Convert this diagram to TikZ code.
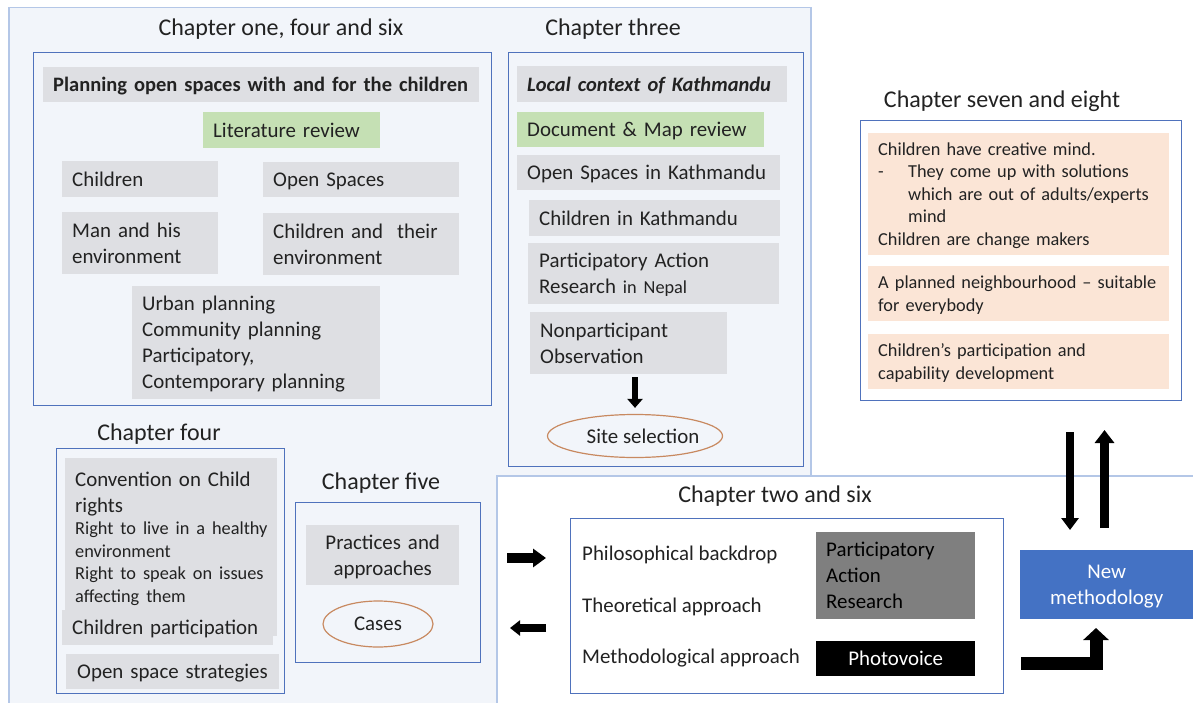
\documentclass[tikz,border=0pt]{standalone}
\usepackage{fontspec}
\setmainfont{Carlito}
\usetikzlibrary{arrows.meta,shapes.geometric}

\definecolor{panelfill}{RGB}{242,245,250}
\definecolor{panelline}{RGB}{180,199,231}
\definecolor{frameblue}{RGB}{79,114,188}
\definecolor{boxgray}{RGB}{222,223,227}
\definecolor{boxgreen}{RGB}{197,224,180}
\definecolor{boxpeach}{RGB}{251,229,214}
\definecolor{pargray}{RGB}{127,127,127}
\definecolor{methblue}{RGB}{68,114,196}
\definecolor{ovalline}{RGB}{200,137,96}
\definecolor{ink}{RGB}{34,34,34}

\newcommand\chapfont{\fontsize{24pt}{29pt}\selectfont}
\newcommand\boxfont{\fontsize{20.9pt}{26pt}\selectfont}
\newcommand\leadfont{\fontsize{20.5pt}{26pt}\selectfont}
\newcommand\notefont{\fontsize{18.3pt}{22.5pt}\selectfont}
% invisible rules giving every box the same top and bottom extent
\newcommand\topstrut{\rule{0pt}{1.05em}}
\newcommand\botstrut{\rule[-0.38em]{0pt}{0.38em}}

\tikzset{
  chaptitle/.style={inner sep=0pt, font=\chapfont, text=ink},
  chapframe/.style={draw=frameblue, line width=1.1pt, anchor=north west, inner sep=0pt},
  fillbox/.style={anchor=north west, align=left, inner xsep=10pt, inner ysep=0pt,
    font=\boxfont, text=ink, execute at begin node=\topstrut, execute at end node=\botstrut},
  graybox/.style={fillbox, fill=boxgray},
  greenbox/.style={fillbox, fill=boxgreen},
  peachbox/.style={fillbox, fill=boxpeach, font=\notefont},
  oval/.style={ellipse, draw=ovalline, line width=1.2pt, inner sep=0pt, font=\boxfont, text=ink},
  plain/.style={anchor=west, inner sep=0pt, font=\boxfont, text=ink},
  blockarrow/.style={line width=#1, line cap=butt, draw=black},
}

\begin{document}
\begin{tikzpicture}[x=1pt, y=-1pt]
\useasboundingbox (0,0) rectangle (1193,703);
\clip (0,0) rectangle (1193,703);

% background panel of the literature chapters and the white outcome area
\node[fill=panelfill, draw=panelline, line width=1.5pt, anchor=north west,
      minimum width=802pt, minimum height=720pt, inner sep=0pt] (panel) at (8,7) {};
\node[fill=white, draw=panelline, line width=1.5pt, anchor=north west,
      minimum width=760pt, minimum height=260pt, inner sep=0pt] (outcome) at (496,475) {};

% chapter titles
\node[chaptitle] (t1) at (281,29) {Chapter one, four and six};
\node[chaptitle] (t3) at (613,29) {Chapter three};
\node[chaptitle] (t7) at (1002,101) {Chapter seven and eight};
\node[chaptitle] (t4) at (159,434) {Chapter four};
\node[chaptitle] (t5) at (381,483) {Chapter five};
\node[chaptitle] (t2) at (775,496) {Chapter two and six};

% chapter frames
\node[chapframe, minimum width=458pt, minimum height=353pt] (ch1frame) at (33,52) {};
\node[chapframe, minimum width=295pt, minimum height=414pt] (ch3frame) at (508,52) {};
\node[chapframe, minimum width=321pt, minimum height=280pt] (ch7frame) at (860,120) {};
\node[chapframe, minimum width=228pt, minimum height=245pt] (ch4frame) at (56,448) {};
\node[chapframe, minimum width=185pt, minimum height=160pt] (ch5frame) at (295,502) {};
\node[chapframe, minimum width=433pt, minimum height=175pt] (ch2frame) at (570,518) {};

% chapter one, four and six
\node[graybox, text width=416pt, minimum height=35pt] (plan) at (43,67)
  {\mbox{\leadfont\bfseries Planning open spaces with and for the children}};
\node[greenbox, text width=157pt, minimum height=36pt] (litrev) at (203,112) {\mbox{Literature review}};
\node[graybox, text width=136pt, minimum height=36pt] (children) at (62,161) {Children};
\node[graybox, text width=176pt, minimum height=35pt] (openspaces) at (263,162) {Open Spaces};
\node[graybox, text width=136pt, minimum height=62pt] (manenv) at (62,212) {Man and his\\environment};
\node[graybox, text width=176pt, minimum height=62pt] (childenv) at (263,213)
  {\mbox{Children and\ \ their}\\environment};
\node[graybox, text width=228pt, minimum height=113pt] (planning) at (132,286)
  {Urban planning\\Community planning\\Participatory,\\Contemporary planning};

% chapter three
\node[graybox, text width=250pt, minimum height=36pt] (local) at (517,66)
  {\mbox{\leadfont\bfseries\itshape Local context of Kathmandu}};
\node[greenbox, text width=227pt, minimum height=35pt] (docmap) at (517,112) {\mbox{Document \& Map review}};
\node[graybox, text width=243pt, minimum height=35pt] (osk) at (517,155) {\mbox{Open Spaces in Kathmandu}};
\node[graybox, text width=231pt, minimum height=36pt] (chk) at (529,200) {\mbox{Children in Kathmandu}};
\node[graybox, inner xsep=11pt, text width=229pt, minimum height=61pt] (parnepal) at (528,243)
  {\mbox{Participatory Action}\\\mbox{Research {\notefont in Nepal}}};
\node[graybox, text width=177pt, minimum height=62pt] (nonpart) at (530,312)
  {Nonparticipant\\Observation};
\node[oval, minimum width=175pt, minimum height=43pt,
      label={[font=\boxfont, text=ink, xshift=8pt]center:Site selection}] (site) at (635,436) {};
\draw[blockarrow=6pt, -{Triangle[width=15pt,length=9pt]}, shorten <=3pt, shorten >=6pt]
  (site.north |- nonpart.south) -- (site.north);

% chapter seven and eight
\node[peachbox, text width=281pt, minimum height=122pt] (creative) at (868,133)
  {\mbox{Children have creative mind.}\\
   \mbox{\makebox[30pt][l]{-}They come up with solutions}\\
   \mbox{\hspace*{30pt}which are out of adults/experts}\\
   \mbox{\hspace*{30pt}mind}\\
   \mbox{Children are change makers}};
\node[peachbox, text width=281pt, minimum height=55pt] (neighbour) at (868,266)
  {\mbox{A planned neighbourhood -- suitable}\\\mbox{for everybody}};
\node[peachbox, text width=281pt, minimum height=55pt] (capability) at (868,334)
  {\mbox{Children's participation and}\\\mbox{capability development}};

% chapter four
\node[graybox, execute at begin node={\rule{0pt}{1.35em}}, execute at end node={},
      text width=192pt, minimum height=152pt] (crc) at (65,458)
  {{\boxfont \mbox{Convention on Child}\par rights\par}%
   {\notefont \mbox{Right to live in a healthy}\par environment\par
    \mbox{Right to speak on issues}\par \mbox{affecting them}\par}};
\node[graybox, text width=191pt, minimum height=35pt] (chpart) at (62,610) {\mbox{Children participation}};
\node[graybox, inner xsep=11pt, text width=191pt, minimum height=35pt] (osstrat) at (66,654)
  {\mbox{Open space strategies}};

% chapter five
\node[graybox, align=center, text width=133pt, minimum height=60pt] (practices) at (306,525)
  {Practices and\\approaches};
\node[oval, minimum width=110pt, minimum height=46pt] (cases) at (378,624) {Cases};

% chapter two and six
\node[plain] (philo) at (582,555) {Philosophical backdrop};
\node[plain] (theo) at (582,607) {Theoretical approach};
\node[plain] (methapp) at (582,658) {Methodological approach};
\node[fillbox, fill=pargray, text=black, text width=139pt, minimum height=87pt] (par) at (816,532)
  {Participatory\\Action\\Research};
\node[fillbox, fill=black, text=white, align=center, text width=139pt, minimum height=35pt] (photo) at (816,641)
  {Photovoice};

% outcome
\node[fillbox, fill=methblue, text=white, align=center, text width=153pt, minimum height=69pt] (newmeth) at (1020,550)
  {New\\methodology};

% block arrows
\coordinate (inR0) at (507,558);   \coordinate (inR1) at (546,558);
\coordinate (outL0) at (546,628);  \coordinate (outL1) at (510,628);
\coordinate (dn0) at (1070,432);   \coordinate (dn1) at (1070,530);
\coordinate (up0) at (1104.5,528); \coordinate (up1) at (1104.5,430);
\coordinate (bend0) at (1021,663.5); \coordinate (bend1) at (1096,628);

\draw[blockarrow=10pt, -{Triangle[width=18pt,length=13pt]}] (inR0) -- (inR1);
\draw[blockarrow=8pt, -{Triangle[width=15pt,length=10pt]}] (outL0) -- (outL1);
\draw[blockarrow=8pt, -{Triangle[width=17pt,length=12pt]}] (dn0) -- (dn1);
\draw[blockarrow=9pt, -{Triangle[width=19pt,length=13pt]}] (up0) -- (up1);
\draw[blockarrow=13pt, line join=miter, -{Triangle[width=25pt,length=12pt]}] (bend0) -| (bend1);
\end{tikzpicture}
\end{document}
